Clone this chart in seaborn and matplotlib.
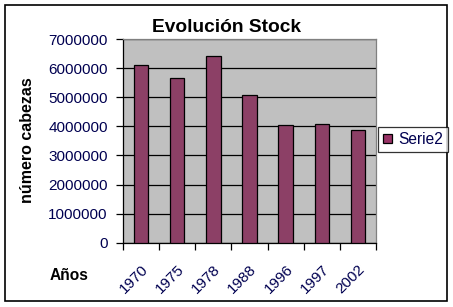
import matplotlib
matplotlib.use("Agg")
import matplotlib.pyplot as plt
import matplotlib.patches as mpatches
import matplotlib.transforms as mtransforms
import seaborn as sns
import pandas as pd

years = ["1970", "1975", "1978", "1988", "1996", "1997", "2002"]
stock = [6100000, 5650000, 6410000, 5070000, 4040000, 4070000, 3880000]
series_name = "Serie2"
yticks = [0, 1000000, 2000000, 3000000, 4000000, 5000000, 6000000, 7000000]

df = pd.DataFrame({"Años": years, "stock": stock, "serie": series_name})

sns.set_style("white")
plt.rcParams["font.family"] = ["Liberation Sans", "DejaVu Sans"]

W, H = 453, 307
fig = plt.figure(figsize=(W / 100, H / 100), dpi=100)
fig.patch.set_facecolor("white")

ax = fig.add_axes([123 / W, 1 - 242.7 / H, (376 - 123) / W, (242.7 - 39.2) / H])
ax.set_facecolor("#C0C0C0")

sns.barplot(data=df, x="Años", y="stock", hue="serie", dodge=False,
            palette={series_name: "#993366"}, width=0.4, edgecolor="black",
            linewidth=0.9, ax=ax, legend=False, zorder=3)

ax.set_ylim(0, 7000000)
ax.set_xlim(-0.5, len(years) - 0.5)
ax.set_yticks(yticks)
ax.set_yticklabels([str(v) for v in yticks], fontsize=11, color="#000050")
ax.yaxis.grid(True, color="black", linewidth=0.9, zorder=1)
ax.set_axisbelow(True)

# Category boundary ticks (major), labels at centers (minor)
ax.set_xticks([i - 0.5 for i in range(len(years) + 1)])
ax.set_xticklabels([])
ax.set_xticks(range(len(years)), minor=True)
ax.set_xticklabels(years, minor=True, rotation=45, ha="right", va="top",
                   rotation_mode="anchor", fontsize=11, color="#000050")
shift = mtransforms.ScaledTranslation(-4 / 100, 0, fig.dpi_scale_trans)
for lbl in ax.get_xticklabels(minor=True):
    lbl.set_transform(lbl.get_transform() + shift)
ax.tick_params(axis="x", which="major", direction="out", length=5, width=0.9,
               color="black", bottom=True)
ax.tick_params(axis="x", which="minor", length=0, pad=14)
ax.tick_params(axis="y", direction="out", length=5, width=0.9, color="black",
               left=True, pad=6)

ax.set_xlabel("")
ax.set_ylabel("")
for s in ["left", "bottom"]:
    ax.spines[s].set_color("black")
    ax.spines[s].set_linewidth(0.9)
for s in ["top", "right"]:
    ax.spines[s].set_color("#808080")
    ax.spines[s].set_linewidth(0.9)

# Titles / labels
fig.text(226.5 / W, 1 - 27 / H, "Evolución Stock", ha="center", va="center",
         fontsize=13.8, fontweight="bold", color="black")
fig.text(28 / W, 1 - 140 / H, "número cabezas", ha="center", va="center",
         rotation=90, fontsize=11.5, fontweight="bold", color="black")
fig.text(69.5 / W, 1 - 275 / H, "Años", ha="center", va="center",
         fontsize=11.2, fontweight="bold", color="black")

# Legend
handle = mpatches.Patch(facecolor="#993366", edgecolor="black", linewidth=0.9,
                        label=series_name)
leg = fig.legend(handles=[handle], loc="center left",
                 bbox_to_anchor=(378 / W, 1 - 139.5 / H), frameon=True,
                 fancybox=False, shadow=False, fontsize=11.2,
                 handlelength=0.6, handleheight=0.6, handletextpad=0.4,
                 borderpad=0.3, borderaxespad=0)
leg.get_frame().set_edgecolor("black")
leg.get_frame().set_linewidth(0.9)
for t in leg.get_texts():
    t.set_color("#000050")

# Figure border
border = mpatches.Rectangle((5 / W, 1 - 301 / H), 442 / W, 296 / H,
                            transform=fig.transFigure, fill=False,
                            edgecolor="black", linewidth=1.2)
fig.patches.append(border)

fig.savefig("out.png", dpi=100)
